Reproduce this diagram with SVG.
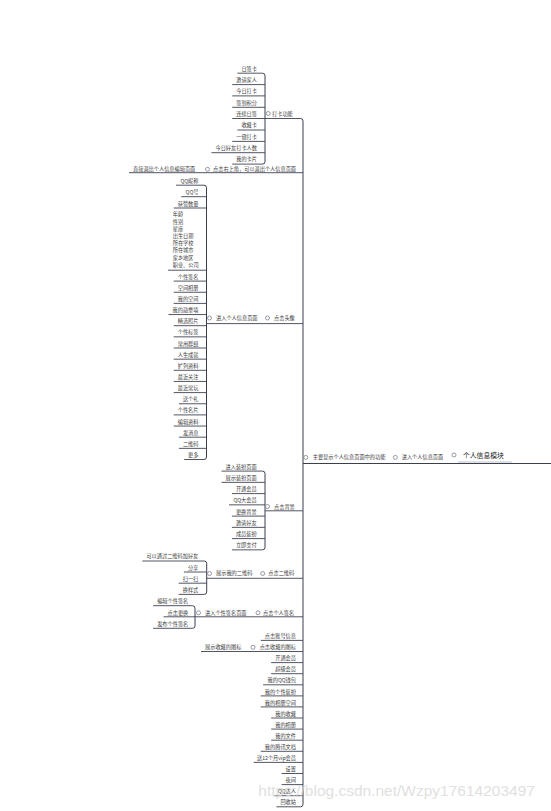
<svg xmlns="http://www.w3.org/2000/svg" width="551" height="811" viewBox="0 0 551 811">
<style>
.t{font-family:"Noto Sans CJK SC","Liberation Sans",sans-serif;font-size:5.2px;fill:#3a3a3a}
.e{text-anchor:end}
.u{stroke:#3e4352;stroke-width:0.9;fill:none}
.c{stroke:#3a3f4e;stroke-width:1;fill:none}
.mk{fill:#fff;stroke:#7a7f8c;stroke-width:0.8}
.root{font-family:"Noto Sans CJK SC","Liberation Sans",sans-serif;font-size:6.8px;fill:#222}
.wm{font-family:"Liberation Sans",Arial,sans-serif;font-size:15.5px;fill:#d9d9d9;opacity:0.8}
</style>
<rect width="551" height="811" fill="#fff"/>
<g id="connectors">
<path class="c" d="M300.5,118.5 Q303,118.5 303,121 V804.3 Q303,806.8 300.5,806.8"/>
<path class="c" d="M262.5,73.2 Q265,73.2 265,75.7 V161.6 Q265,164.1 262.5,164.1"/>
<path class="c" d="M204,185.2 Q206.5,185.2 206.5,187.7 V457 Q206.5,459.5 204,459.5"/>
<path class="c" d="M262.5,471.1 Q265,471.1 265,473.6 V547.35 Q265,549.85 262.5,549.85"/>
<path class="c" d="M204.2,561 Q206.7,561 206.7,563.5 V591.9 Q206.7,594.4 204.2,594.4"/>
<path class="c" d="M192.5,605.7 Q195,605.7 195,608.2 V625.8 Q195,628.3 192.5,628.3"/>
</g>
<g id="root"><circle class="mk" cx="454" cy="455" r="2"/><text class="root" x="463" y="457.6">个人信息模块</text><path d="M458,462 H512" stroke="#b8bcc4" stroke-width="0.9"/><path class="c" d="M452,463.5 H551"/></g>
<g id="n-enter-info"><circle class="mk" cx="395.3" cy="457.4" r="2"/><text class="t" x="401.7" y="459.3">进入个人信息页面</text><path class="c" d="M392,463.5 H452"/></g>
<g id="n-main"><circle class="mk" cx="305.8" cy="457.4" r="2"/><text class="t" x="312.7" y="459.3">主要显示个人信息页面中的功能</text><path class="c" d="M303,463.5 H392"/></g>

<g id="n-daka"><circle class="mk" cx="268.2" cy="113.5" r="2"/><text class="t" x="272" y="115.5">打卡功能</text><path class="u" d="M265,118.5 H300.5"/></g>
<g id="n-d1"><text class="t e" x="257" y="70.5">日签卡</text><path class="u" d="M237.4,73.2 H262.5"/></g>
<g id="n-d2"><text class="t e" x="257" y="81.9">邀请家人</text><path class="u" d="M232.2,84.6 H265"/></g>
<g id="n-d3"><text class="t e" x="257" y="93.2">今日打卡</text><path class="u" d="M232.2,95.9 H265"/></g>
<g id="n-d4"><text class="t e" x="257" y="104.6">签到积分</text><path class="u" d="M232.2,107.3 H265"/></g>
<g id="n-d5"><text class="t e" x="257" y="116">连续日签</text><path class="u" d="M232.2,118.5 H265"/></g>
<g id="n-d6"><text class="t e" x="257" y="127.3">收藏卡</text><path class="u" d="M237.4,130 H265"/></g>
<g id="n-d7"><text class="t e" x="257" y="138.7">一键打卡</text><path class="u" d="M232.2,141.4 H265"/></g>
<g id="n-d8"><text class="t e" x="257" y="150">今日好友打卡人数</text><path class="u" d="M211.4,152.7 H265"/></g>
<g id="n-d9"><text class="t e" x="257" y="161.4">我的卡片</text><path class="u" d="M232.2,164.1 H262.5"/></g>

<g id="n-topright"><circle class="mk" cx="207.5" cy="169.3" r="2"/><text class="t" x="213" y="171">点击右上角，可以退出个人信息页面</text><path class="u" d="M204,172.7 H303"/></g>
<g id="n-exit"><text class="t" x="133" y="171">直接退出个人信息编辑页面</text><path class="u" d="M129,172.7 H204"/></g>

<g id="n-avatar"><circle class="mk" cx="267.5" cy="318" r="2"/><text class="t" x="274" y="319.7">点击头像</text><path class="u" d="M263,323.6 H303"/></g>
<g id="n-profile"><circle class="mk" cx="209.5" cy="318" r="2"/><text class="t" x="216" y="319.7">进入个人信息页面</text><path class="u" d="M206.5,323.6 H263"/></g>
<g id="n-p1"><text class="t e" x="198.5" y="182.7">QQ昵称</text><path class="u" d="M176,185.2 H204"/></g>
<g id="n-p2"><text class="t e" x="198.5" y="194.2">QQ号</text><path class="u" d="M181.2,196.7 H206.5"/></g>
<g id="n-p3"><text class="t e" x="198.5" y="205.5">获赞数量</text><path class="u" d="M173.7,208 H206.5"/></g>
<g id="n-p4"><text class="t" x="172.7" y="216.3">年龄</text><text class="t" x="172.7" y="223.5">性别</text><text class="t" x="172.7" y="230.7">星座</text><text class="t" x="172.7" y="237.9">出生日期</text><text class="t" x="172.7" y="245.1">所在学校</text><text class="t" x="172.7" y="252.3">所在城市</text><text class="t" x="172.7" y="259.5">家乡地区</text><text class="t" x="172.7" y="266.7">职业、公司</text><path class="u" d="M168,270.2 H206.5"/></g>
<g id="n-p5"><text class="t e" x="198.5" y="278.6">个性签名</text><path class="u" d="M173.7,281.1 H206.5"/></g>
<g id="n-p6"><text class="t e" x="198.5" y="289.75">空间相册</text><path class="u" d="M173.7,292.25 H206.5"/></g>
<g id="n-p7"><text class="t e" x="198.5" y="300.9">我的空间</text><path class="u" d="M173.7,303.4 H206.5"/></g>
<g id="n-p8"><text class="t e" x="198.5" y="312.05">我的勋章墙</text><path class="u" d="M168.5,314.55 H206.5"/></g>
<g id="n-p9"><text class="t e" x="198.5" y="323.2">精选照片</text><path class="u" d="M173.7,325.7 H206.5"/></g>
<g id="n-p10"><text class="t e" x="198.5" y="334.35">个性标签</text><path class="u" d="M173.7,336.85 H206.5"/></g>
<g id="n-p11"><text class="t e" x="198.5" y="345.5">常用群组</text><path class="u" d="M173.7,348 H206.5"/></g>
<g id="n-p12"><text class="t e" x="198.5" y="356.65">人生成就</text><path class="u" d="M173.7,359.15 H206.5"/></g>
<g id="n-p13"><text class="t e" x="198.5" y="367.8">扩列资料</text><path class="u" d="M173.7,370.3 H206.5"/></g>
<g id="n-p14"><text class="t e" x="198.5" y="378.95">最近关注</text><path class="u" d="M173.7,381.45 H206.5"/></g>
<g id="n-p15"><text class="t e" x="198.5" y="390.1">最近常玩</text><path class="u" d="M173.7,392.6 H206.5"/></g>
<g id="n-p16"><text class="t e" x="198.5" y="401.25">送个礼</text><path class="u" d="M178.9,403.75 H206.5"/></g>
<g id="n-p17"><text class="t e" x="198.5" y="412.4">个性名片</text><path class="u" d="M173.7,414.9 H206.5"/></g>
<g id="n-p18"><text class="t e" x="198.5" y="423.55">编辑资料</text><path class="u" d="M173.7,426.05 H206.5"/></g>
<g id="n-p19"><text class="t e" x="198.5" y="434.7">发消息</text><path class="u" d="M178.9,437.2 H206.5"/></g>
<g id="n-p20"><text class="t e" x="198.5" y="445.85">二维码</text><path class="u" d="M178.9,448.35 H206.5"/></g>
<g id="n-p21"><text class="t e" x="198.5" y="457">更多</text><path class="u" d="M184.1,459.5 H204"/></g>

<g id="n-bg"><circle class="mk" cx="267.5" cy="506.5" r="2"/><text class="t" x="274" y="508.5">点击背景</text><path class="u" d="M265,510.8 H303"/></g>
<g id="n-b1"><text class="t e" x="256.7" y="468.7">进入装扮页面</text><path class="u" d="M221.5,471.1 H262.5"/></g>
<g id="n-b2"><text class="t e" x="256.7" y="479.95">展示装扮页面</text><path class="u" d="M221.5,482.35 H265"/></g>
<g id="n-b3"><text class="t e" x="256.7" y="491.2">开通会员</text><path class="u" d="M231.9,493.6 H265"/></g>
<g id="n-b4"><text class="t e" x="256.7" y="502.45">QQ大会员</text><path class="u" d="M229,504.85 H265"/></g>
<g id="n-b5"><text class="t e" x="256.7" y="513.7">更换背景</text><path class="u" d="M231.9,516.1 H265"/></g>
<g id="n-b6"><text class="t e" x="256.7" y="524.95">邀请好友</text><path class="u" d="M231.9,527.35 H265"/></g>
<g id="n-b7"><text class="t e" x="256.7" y="536.2">成员装扮</text><path class="u" d="M231.9,538.6 H265"/></g>
<g id="n-b8"><text class="t e" x="256.7" y="547.45">立即支付</text><path class="u" d="M231.9,549.85 H262.5"/></g>

<g id="n-qr"><circle class="mk" cx="262.7" cy="573.5" r="2"/><text class="t" x="268.3" y="575.3">点击二维码</text><path class="u" d="M259.5,578.3 H303"/></g>
<g id="n-myqr"><circle class="mk" cx="209.5" cy="573.5" r="2"/><text class="t" x="216" y="575.3">展示我的二维码</text><path class="u" d="M206.7,578.3 H259.5"/></g>
<g id="n-q1"><text class="t e" x="198.3" y="558">可以通过二维码加好友</text><path class="u" d="M142.3,561 H204.2"/></g>
<g id="n-q2"><text class="t e" x="198.3" y="569.5">分享</text><path class="u" d="M183.9,572 H206.7"/></g>
<g id="n-q3"><text class="t e" x="198.3" y="580.8">扫一扫</text><path class="u" d="M178.7,583.2 H206.7"/></g>
<g id="n-q4"><text class="t e" x="198.3" y="592">换样式</text><path class="u" d="M178.7,594.4 H204.2"/></g>

<g id="n-sign"><circle class="mk" cx="258" cy="612.8" r="2"/><text class="t" x="263" y="614.7">点击个人签名</text><path class="u" d="M255,616.8 H303"/></g>
<g id="n-signpage"><circle class="mk" cx="198.5" cy="612.8" r="2"/><text class="t" x="205" y="614.7">进入个性签名页面</text><path class="u" d="M195,616.8 H255"/></g>
<g id="n-s1"><text class="t e" x="188.3" y="603">编辑个性签名</text><path class="u" d="M153.1,605.7 H192.5"/></g>
<g id="n-s2"><text class="t e" x="188.3" y="614.7">点击更换</text><path class="u" d="M163.5,616.8 H195"/></g>
<g id="n-s3"><text class="t e" x="188.3" y="626">发布个性签名</text><path class="u" d="M153.1,628.3 H192.5"/></g>

<g id="n-l0"><text class="t e" x="296" y="638">点击账号信息</text><path class="u" d="M260.8,640.4 H303"/></g>
<g id="n-l1"><circle class="mk" cx="253" cy="647.3" r="2"/><text class="t e" x="296" y="649.1">点击收藏的图标</text><path class="u" d="M250,651.5 H303"/></g>
<g id="n-l1a"><text class="t" x="205" y="649.1">展示收藏的图标</text><path class="u" d="M201,651.5 H250"/></g>
<g id="n-l2"><text class="t e" x="296" y="660.2">开通会员</text><path class="u" d="M271.2,662.6 H303"/></g>
<g id="n-l3"><text class="t e" x="296" y="671.3">超级会员</text><path class="u" d="M271.2,673.7 H303"/></g>
<g id="n-l4"><text class="t e" x="296" y="682.4">我的QQ钱包</text><path class="u" d="M263.1,684.8 H303"/></g>
<g id="n-l5"><text class="t e" x="296" y="693.5">我的个性装扮</text><path class="u" d="M260.8,695.9 H303"/></g>
<g id="n-l6"><text class="t e" x="296" y="704.5">我的相册空间</text><path class="u" d="M260.8,706.9 H303"/></g>
<g id="n-l7"><text class="t e" x="296" y="715.6">我的收藏</text><path class="u" d="M271.2,718 H303"/></g>
<g id="n-l8"><text class="t e" x="296" y="726.7">我的相册</text><path class="u" d="M271.2,729.1 H303"/></g>
<g id="n-l9"><text class="t e" x="296" y="737.8">我的文件</text><path class="u" d="M271.2,740.2 H303"/></g>
<g id="n-l10"><text class="t e" x="296" y="748.9">我的腾讯文档</text><path class="u" d="M260.8,751.3 H303"/></g>
<g id="n-l11"><text class="t e" x="296" y="760">送12个月vip会员</text><path class="u" d="M253.6,762.4 H303"/></g>
<g id="n-l12"><text class="t e" x="296" y="771.1">设置</text><path class="u" d="M281.6,773.5 H303"/></g>
<g id="n-l13"><text class="t e" x="296" y="782.2">夜间</text><path class="u" d="M281.6,784.6 H303"/></g>
<g id="n-l14"><text class="t e" x="296" y="793.3">QQ达人</text><path class="u" d="M273.5,795.7 H303"/></g>
<g id="n-l15"><text class="t e" x="296" y="804.4">回收站</text><path class="u" d="M276.4,806.8 H300.5"/></g>

<text class="wm" x="258.3" y="796">https://blog.csdn.net/Wzpy17614203497</text>
</svg>
